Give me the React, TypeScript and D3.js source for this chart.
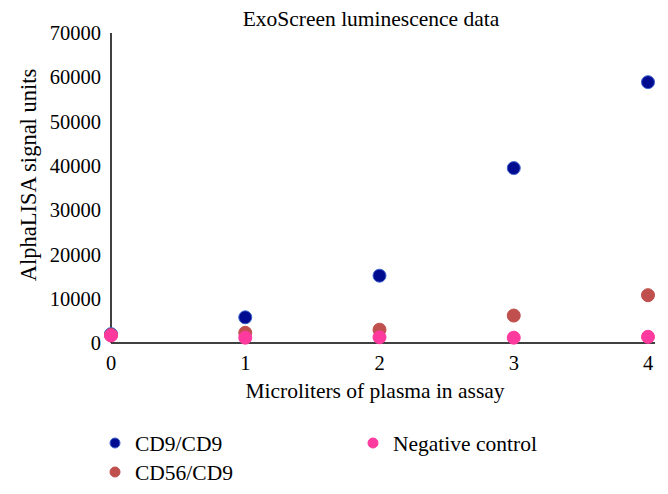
import React from "react";
import * as d3 from "d3";

const xValues = [0, 1, 2, 3, 4];
const cd9 = [2000, 5800, 15200, 39500, 58900];
const cd56 = [1800, 2300, 3000, 6200, 10800];
const negative = [1700, 1200, 1300, 1200, 1400];
const yTicks = [0, 10000, 20000, 30000, 40000, 50000, 60000, 70000];
const seriesNames = ["CD9/CD9", "CD56/CD9", "Negative control"];
const seriesColors = ["#000c8f", "#c0504d", "#ff3a9e"];
const seriesStroke = ["#3f64d0", "#c0504d", "#ff3a9e"];

const W = 668, H = 494;
const left = 111, right = 648, top = 33, bottom = 343;
const FONT = "Liberation Serif, DejaVu Serif, serif";

export default function App() {
  const x = d3.scaleLinear().domain([0, 4]).range([left, right]);
  const y = d3.scaleLinear().domain([0, 70000]).range([bottom, top]);
  const series = [cd9, cd56, negative];
  const ts = { fontFamily: FONT };
  return (
    <svg width={W} height={H} style={{ position: "absolute", left: 0, top: 0, background: "#fff" }}>
      <text style={ts} x={371} y={26} textAnchor="middle" fontSize={21.5}>ExoScreen luminescence data</text>
      <line x1={left} x2={left} y1={top} y2={bottom} stroke="#000" strokeWidth={1.5} />
      <line x1={left} x2={655} y1={bottom} y2={bottom} stroke="#000" strokeWidth={1.5} />
      {yTicks.map((t) => (
        <text style={ts} key={t} x={101} y={y(t)} dy="0.35em" textAnchor="end" fontSize={20.5}>{t}</text>
      ))}
      {xValues.map((v) => (
        <text style={ts} key={v} x={x(v)} y={363} dy="0.35em" textAnchor="middle" fontSize={20.5}>{v}</text>
      ))}
      <text style={ts} x={375} y={398} textAnchor="middle" fontSize={21.5}>Microliters of plasma in assay</text>
      <text style={ts} transform={`translate(36,175) rotate(-90)`} textAnchor="middle" fontSize={22.5}>AlphaLISA signal units</text>
      {series.map((s, si) => (
        <g key={si}>
          {s.map((v, i) => (
            <circle key={i} cx={x(xValues[i])} cy={y(v)} r={6.5}
              fill={seriesColors[si]} stroke={seriesStroke[si]} strokeWidth={1} />
          ))}
        </g>
      ))}
      {seriesNames.map((n, i) => {
        const lx = i < 2 ? 115 : 373;
        const ly = i === 1 ? 472 : 443;
        return (
          <g key={n}>
            <circle cx={lx} cy={ly} r={5} fill={seriesColors[i]} stroke={seriesStroke[i]} strokeWidth={1} />
            <text style={ts} x={lx + 20} y={ly} dy="0.35em" fontSize={21.5}>{n}</text>
          </g>
        );
      })}
    </svg>
  );
}
